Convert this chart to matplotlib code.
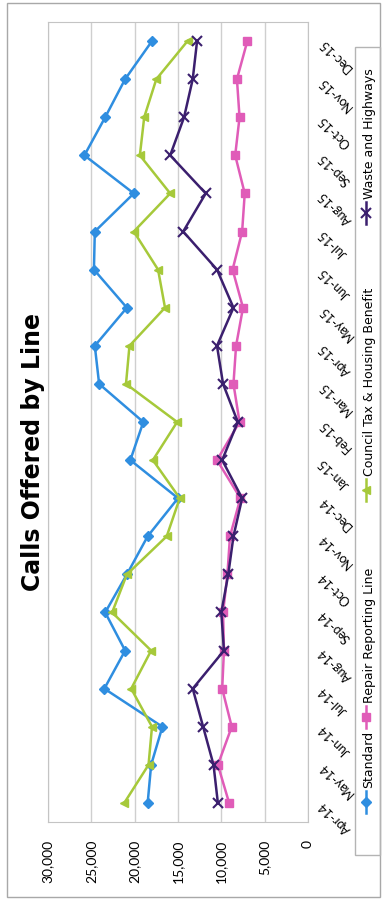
import matplotlib.pyplot as plt
from matplotlib.lines import Line2D
from matplotlib.patches import Rectangle
import numpy as np

plt.rcParams['font.family'] = ['Lato', 'DejaVu Sans']

months = ["Apr-14", "May-14", "Jun-14", "Jul-14", "Aug-14", "Sep-14", "Oct-14",
          "Nov-14", "Dec-14", "Jan-15", "Feb-15", "Mar-15", "Apr-15", "May-15",
          "Jun-15", "Jul-15", "Aug-15", "Sep-15", "Oct-15", "Nov-15", "Dec-15"]

standard = [18500, 18100, 16800, 23500, 21100, 23400, 20900, 18500, 15000, 20500, 19000,
            24100, 24600, 20900, 24700, 24600, 20100, 25800, 23400, 21100, 18000]
repair = [9100, 10400, 8800, 9900, 9700, 9800, 9300, 9000, 7800, 10500, 7900,
          8600, 8300, 7500, 8700, 7600, 7300, 8400, 7900, 8200, 7000]
council = [21200, 18400, 18000, 20400, 18100, 22600, 20900, 16300, 14800, 17900, 15100,
           21000, 20600, 16500, 17300, 20100, 15900, 19400, 18900, 17500, 13900]
waste = [10400, 10900, 12100, 13300, 9700, 10000, 9200, 8600, 7600, 9900, 8100,
         9800, 10500, 8600, 10500, 14400, 11800, 15900, 14300, 13300, 12800]

series_names = ["Standard", "Repair Reporting Line",
                "Council Tax & Housing Benefit", "Waste and Highways"]
series_vals = [standard, repair, council, waste]
colors = ["#2f8ee0", "#e05cb8", "#a6c93a", "#3b1f6e"]
markers = ["D", "s", "<", "x"]
msizes = [5, 6, 6, 7]

W, H = 384, 900
fig = plt.figure(figsize=(W / 100, H / 100), dpi=100)

# outer chart frame
fig.add_artist(Rectangle((7 / W, 3 / H), 373 / W, 894 / H, transform=fig.transFigure,
                         fill=False, edgecolor="#a8a8a8", lw=1))

# chart is laid out sideways: values run right-to-left, months bottom-to-top
ax = fig.add_axes([48 / W, 1 - 822 / H, 260 / W, 800 / H])
pos = np.arange(len(months))
for vals, c, m, ms in zip(series_vals, colors, markers, msizes):
    ax.plot(vals, pos, color=c, lw=1.8, marker=m, markersize=ms,
            markeredgecolor=c, markeredgewidth=1.5 if m == "x" else 1)

ax.set_xlim(30000, 0)
ax.set_ylim(-0.5, len(months) - 0.5)
ticks = list(range(0, 30001, 5000))
ax.set_xticks(ticks)
ax.set_xticklabels([f"{t:,}" for t in ticks], rotation=90, fontsize=10)
ax.tick_params(axis="x", length=0, pad=13)

ax.yaxis.tick_right()
ax.set_yticks(pos)
ax.set_yticklabels(months, rotation=135, rotation_mode="anchor",
                   ha="right", va="center", fontsize=9)
ax.tick_params(axis="y", length=0, pad=9)

ax.grid(axis="x", color="#cfcfcf", lw=1)
ax.set_axisbelow(True)
for s in ax.spines.values():
    s.set_color("#c4c4c4")

fig.text(33 / W, 1 - 452 / H, "Calls Offered by Line", rotation=90,
         ha="center", va="center", fontsize=17, fontweight="bold",
         family="DejaVu Sans")

# legend drawn sideways to follow the rotated layout
fig.add_artist(Rectangle((355 / W, 1 - 855 / H), 25 / W, 808 / H,
                         transform=fig.transFigure, fill=False,
                         edgecolor="#b4b4b4", lw=1))
marker_y = [802, 717, 490, 213]
for name, c, m, ms, my in zip(series_names, colors, markers, msizes, marker_y):
    x = 366 / W
    fig.add_artist(Line2D([x, x], [1 - (my + 11) / H, 1 - (my - 11) / H],
                          transform=fig.transFigure, color=c, lw=1.8))
    fig.add_artist(Line2D([x], [1 - my / H], transform=fig.transFigure,
                          color=c, marker=m, markersize=ms, markeredgecolor=c,
                          markeredgewidth=1.5 if m == "x" else 1))
    fig.text(369 / W, 1 - (my - 14) / H, name, rotation=90, ha="center",
             va="bottom", fontsize=9, family="DejaVu Sans")

fig.savefig("out.png", dpi=100)
